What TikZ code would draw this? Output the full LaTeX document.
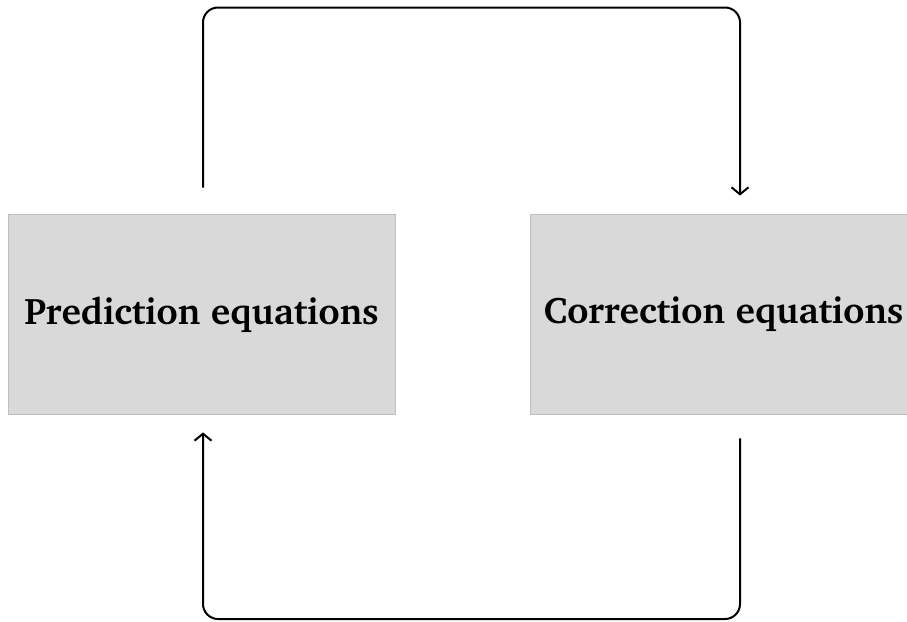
\documentclass[tikz,border=0pt]{standalone}
\usepackage[T1]{fontenc}
\usepackage{charter}
\usetikzlibrary{arrows.meta}
\definecolor{boxfill}{HTML}{D9D9D9}
\definecolor{boxline}{HTML}{BFBFBF}
\begin{document}
\begin{tikzpicture}[x=1pt,y=-1pt,
  box/.style={draw=boxline, fill=boxfill, minimum width=387pt, minimum height=200pt,
    inner sep=0pt, line width=0.8pt, font=\bfseries\fontsize{37}{44}\selectfont},
  conn/.style={line width=2pt, rounded corners=15pt,
    -{Straight Barb[length=7pt,width=17pt,line width=2pt]}}]
\useasboundingbox (0,0) rectangle (907,621);
\clip (0,0) rectangle (907,621);
\node[box] (pred) at (201.5,314) {Prediction equations};
\node[box] (corr) at (723.5,314) {Correction equations};
\coordinate (tl) at (203,7.5);
\coordinate (tr) at (740,7.5);
\coordinate (bl) at (203,619);
\coordinate (br) at (740,619);
\draw[conn] ([xshift=1.5pt,yshift=26pt]pred.north) -- (tl) -- (tr) -- ([xshift=16.5pt,yshift=18pt]corr.north);
\draw[conn] ([xshift=16.5pt,yshift=-24pt]corr.south) -- (br) -- (bl) -- ([xshift=1.5pt,yshift=-18pt]pred.south);
\end{tikzpicture}
\end{document}
